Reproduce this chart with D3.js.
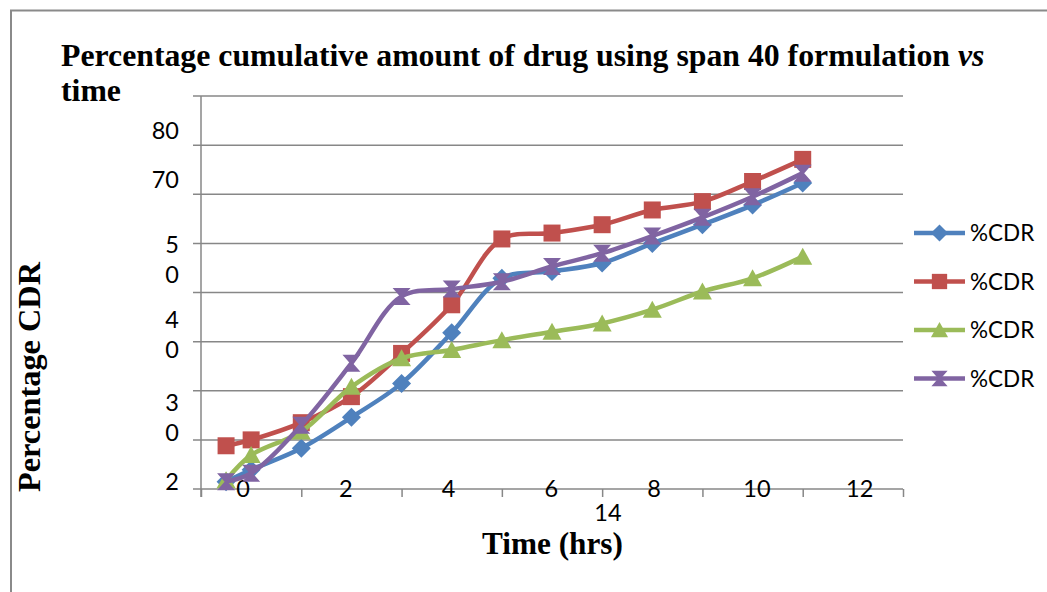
<!DOCTYPE html>
<html>
<head>
<meta charset="utf-8">
<script src="https://cdn.jsdelivr.net/npm/d3@7"></script>
<style>
  body { margin: 0; background: #fff; }
  svg { display: block; }
</style>
</head>
<body>
<div id="container"></div>
<script>
// time points (hrs)
var times = [0.5, 1, 2, 3, 4, 5, 6, 7, 8, 9, 10, 11, 12];

// %CDR for the four runs
var cdrBlue   = [1.5, 3.9, 8.3, 14.6, 21.5, 31.8, 42.9, 44.3, 46.0, 50.0, 53.8, 57.8, 62.3];
var cdrRed    = [8.8, 10.0, 13.5, 18.8, 27.6, 37.5, 50.9, 52.1, 53.8, 56.8, 58.5, 62.6, 67.1];
var cdrGreen  = [1.8, 6.9, 11.7, 20.8, 26.6, 28.3, 30.3, 32.0, 33.7, 36.5, 40.2, 42.9, 47.3];
var cdrPurple = [1.5, 3.2, 13.0, 25.6, 39.2, 40.7, 42.2, 45.3, 48.0, 51.5, 55.3, 59.5, 64.3];

var seriesNames = ["%CDR", "%CDR", "%CDR", "%CDR"];

// tick labels as they came out of the original (wrapped / shifted)
var xTickLabels = ["0", "2", "4", "6", "8", "10", "12"];
var xTickExtra = "14";
var yTickLabels = ["80", "70", "5\n0", "4\n0", "3\n0", "2"];
var yTickAt = [72.9, 62.9, 49.7, 34.4, 17.5, 1.4];

var width = 1047, height = 592;
var plot = {left: 201, right: 903, top: 96, bottom: 489};

var x = d3.scaleLinear().domain([0, 14]).range([plot.left, plot.right]);
var y = d3.scaleLinear().domain([0, 80]).range([plot.bottom, plot.top]);
// the printed labels drifted to the right of their ticks
var xLabel = d3.scaleLinear().domain([0, 12]).range([x(0) + 42, x(12) + 57]);

var svg = d3.select("#container").append("svg")
    .attr("width", width).attr("height", height);

// outer frame (only top and left edges visible)
svg.append("path")
    .attr("d", "M11," + height + " V10.5 H" + width)
    .attr("fill", "none").attr("stroke", "#8a8a8a").attr("stroke-width", 2);

// horizontal gridlines, with the little outward tick on the left
var grid = svg.append("g");
grid.selectAll("line")
    .data(d3.range(0, 81, 10))
    .enter().append("line")
    .attr("x1", plot.left - 8).attr("x2", plot.right)
    .attr("y1", function(d) { return y(d); })
    .attr("y2", function(d) { return y(d); })
    .attr("stroke", "#878787").attr("stroke-width", 1.5);

// y axis line
svg.append("line")
    .attr("x1", plot.left).attr("x2", plot.left)
    .attr("y1", plot.top).attr("y2", plot.bottom + 8)
    .attr("stroke", "#878787").attr("stroke-width", 1.5);

// x axis ticks
var xAxis = d3.axisBottom(x).tickValues(d3.range(0, 15, 2)).tickSize(8).tickFormat("");
var gx = svg.append("g")
    .attr("transform", "translate(0," + plot.bottom + ")")
    .call(xAxis);
gx.select(".domain").remove();
gx.selectAll(".tick line").attr("stroke", "#878787").attr("stroke-width", 1.5);

// x tick labels (shifted, as in the original)
var tickFont = "Lato, 'Open Sans', sans-serif";
svg.append("g").selectAll("text")
    .data(xTickLabels)
    .enter().append("text")
    .attr("x", function(d, i) { return xLabel(i * 2); })
    .attr("y", plot.bottom + 8)
    .attr("text-anchor", "middle")
    .style("font-family", tickFont).style("font-size", "23.5px")
    .text(function(d) { return d; });
svg.append("text")
    .attr("x", xLabel(7.1)).attr("y", plot.bottom + 32)
    .attr("text-anchor", "middle")
    .style("font-family", tickFont).style("font-size", "23.5px")
    .text(xTickExtra);

// y tick labels, wrapped onto two lines
var yl = svg.append("g").selectAll("text")
    .data(yTickLabels)
    .enter().append("text")
    .attr("text-anchor", "end")
    .attr("y", function(d, i) { return y(yTickAt[i]) + 8; })
    .style("font-family", tickFont).style("font-size", "23.5px");
yl.each(function(d) {
    var t = d3.select(this);
    d.split("\n").forEach(function(s, k) {
        t.append("tspan").attr("x", 179).attr("dy", k == 0 ? 0 : 30).text(s);
    });
});

// markers
var markers = {
    diamond: "M0,-9.5L9.5,0L0,9.5L-9.5,0Z",
    square: "M-8.5,-8.5H8.5V8.5H-8.5Z",
    triangle: "M0,-9L9.5,8H-9.5Z",
    hourglass: "M-9,-8.5H9L1.5,0L9,8.5H-9L-1.5,0Z"
};

var series = [
    {name: seriesNames[0], values: cdrBlue,   color: "#4f81bd", marker: markers.diamond},
    {name: seriesNames[1], values: cdrRed,    color: "#c0504d", marker: markers.square},
    {name: seriesNames[2], values: cdrGreen,  color: "#9bbb59", marker: markers.triangle},
    {name: seriesNames[3], values: cdrPurple, color: "#8064a2", marker: markers.hourglass}
];

var line = d3.line()
    .x(function(d) { return x(d[0]); })
    .y(function(d) { return y(d[1]); })
    .curve(d3.curveCatmullRom.alpha(0.5));

series.forEach(function(s) {
    var pts = times.map(function(t, i) { return [t, s.values[i]]; });
    svg.append("path")
        .datum(pts)
        .attr("fill", "none")
        .attr("stroke", s.color)
        .attr("stroke-width", 4.5)
        .attr("d", line);
    svg.append("g").selectAll("path")
        .data(pts)
        .enter().append("path")
        .attr("d", s.marker)
        .attr("transform", function(d) { return "translate(" + x(d[0]) + "," + y(d[1]) + ")"; })
        .attr("fill", s.color);
});

// legend
var legend = svg.append("g").attr("transform", "translate(914,233)");
var li = legend.selectAll("g")
    .data(series)
    .enter().append("g")
    .attr("transform", function(d, i) { return "translate(0," + (i * 48.5) + ")"; });
li.append("line")
    .attr("x1", 0).attr("x2", 51)
    .attr("stroke", function(d) { return d.color; })
    .attr("stroke-width", 4.5);
li.append("path")
    .attr("d", function(d) { return d.marker; })
    .attr("transform", "translate(25.5,0) scale(0.9)")
    .attr("fill", function(d) { return d.color; });
li.append("text")
    .attr("x", 56).attr("y", 8)
    .style("font-family", tickFont).style("font-size", "22.5px")
    .text(function(d) { return d.name; });

// titles
var serif = "'Liberation Serif', 'Times New Roman', serif";

// squeeze a text horizontally to the width it had in the original
function fitWidth(sel, w) {
    var bb = sel.node().getBBox();
    var k = w / bb.width;
    var x0 = +sel.attr("x");
    sel.attr("transform", "translate(" + x0 + ",0) scale(" + k + ",1) translate(" + (-x0) + ",0)");
    return k;
}

var title = svg.append("text")
    .attr("x", 61).attr("y", 66)
    .style("font-family", serif).style("font-size", "32px").style("font-weight", "bold");
title.append("tspan").text("Percentage cumulative amount of drug using span 40 formulation ");
title.append("tspan").style("font-style", "italic").text("vs");
var k = fitWidth(title, 924);

var title2 = svg.append("text")
    .attr("x", 61).attr("y", 101)
    .style("font-family", serif).style("font-size", "32px").style("font-weight", "bold")
    .text("time");
title2.attr("transform", "translate(61,0) scale(" + k + ",1) translate(-61,0)");

var xTitle = svg.append("text")
    .attr("x", 482).attr("y", 554)
    .style("font-family", serif).style("font-size", "32px").style("font-weight", "bold")
    .text("Time (hrs)");
fitWidth(xTitle, 141);

var yTitle = svg.append("text")
    .attr("x", 0).attr("y", 0)
    .attr("text-anchor", "middle")
    .style("font-family", serif).style("font-size", "32px").style("font-weight", "bold")
    .text("Percentage CDR");
var ky = 231 / yTitle.node().getBBox().width;
yTitle.attr("transform", "translate(40,377) rotate(-90) scale(" + ky + ",1)");
</script>
</body>
</html>
